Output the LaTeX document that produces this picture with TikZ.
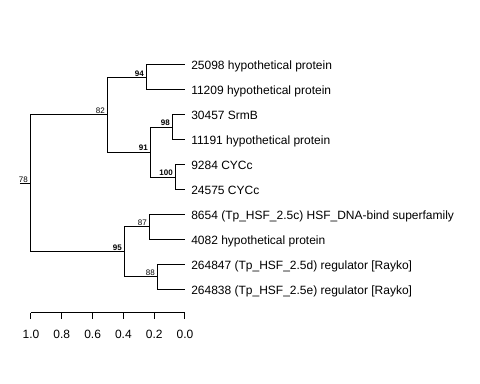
\documentclass[tikz,border=0pt]{standalone}
\usepackage{fontspec}
\setmainfont{Liberation Sans}
\tikzset{
leaf/.style={anchor=west, inner xsep=4.5pt, inner ysep=1pt,
    text height=7.4pt, text depth=0pt,
    font=\fontsize{9}{10}\selectfont},
boot/.style={anchor=south east, inner sep=0.75pt, xshift=-1.5pt,
    font=\fontsize{6}{7}\selectfont},
bootb/.style={boot, font=\fontsize{6}{7}\selectfont\bfseries},
branch/.style={line width=0.75pt}
}

\begin{document}
\begin{tikzpicture}[x=0.75pt, y=-0.75pt]
	\useasboundingbox (0,0) rectangle (480,384);
	\coordinate (stub) at (20,183.5);
	\coordinate (root) at (31,183.5);
	\coordinate (n82) at (108,114.75);
	\coordinate (n94) at (147,77.45);
	\coordinate (n91) at (151,152.05);
	\coordinate (n98) at (173,127.25);
	\coordinate (n100) at (176,177.05);
	\coordinate (n95) at (125,251.75);
	\coordinate (n87) at (150,226.85);
	\coordinate (n88) at (158,276.65);
	\node[leaf] (l1) at (185,65) {25098 hypothetical protein};
	\node[leaf] (l2) at (185,89.9) {11209 hypothetical protein};
	\node[leaf] (l3) at (185,114.8) {30457 SrmB};
	\node[leaf] (l4) at (185,139.7) {11191 hypothetical protein};
	\node[leaf] (l5) at (185,164.6) {9284 CYCc};
	\node[leaf] (l6) at (185,189.5) {24575 CYCc};
	\node[leaf] (l7) at (185,214.4) {8654 (Tp\_HSF\_2.5c) HSF\_DNA-bind superfamily};
	\node[leaf] (l8) at (185,239.3) {4082 hypothetical protein};
	\node[leaf] (l9) at (185,264.2) {264847 (Tp\_HSF\_2.5d) regulator [Rayko]};
	\node[leaf] (l10) at (185,289.1) {264838 (Tp\_HSF\_2.5e) regulator [Rayko]};
	\draw[branch] (stub) -- (root);
	\draw[branch] (root) |- (n82);
	\draw[branch] (root) |- (n95);
	\draw[branch] (n82) |- (n94);
	\draw[branch] (n82) |- (n91);
	\draw[branch] (n94) |- (l1);
	\draw[branch] (n94) |- (l2);
	\draw[branch] (n91) |- (n98);
	\draw[branch] (n91) |- (n100);
	\draw[branch] (n98) |- (l3);
	\draw[branch] (n98) |- (l4);
	\draw[branch] (n100) |- (l5);
	\draw[branch] (n100) |- (l6);
	\draw[branch] (n95) |- (n87);
	\draw[branch] (n95) |- (n88);
	\draw[branch] (n87) |- (l7);
	\draw[branch] (n87) |- (l8);
	\draw[branch] (n88) |- (l9);
	\draw[branch] (n88) |- (l10);
	\node[boot] (b78) at (root) {78};
	\node[boot] (b82) at (n82) {82};
	\node[bootb] (b94) at (n94) {94};
	\node[bootb] (b91) at (n91) {91};
	\node[bootb] (b98) at (n98) {98};
	\node[bootb] (b100) at (n100) {100};
	\node[bootb] (b95) at (n95) {95};
	\node[boot] (b87) at (n87) {87};
	\node[boot] (b88) at (n88) {88};
	% scale
	\draw[branch] (31,313) -- (185,313);
	\foreach \i/\t in {0/1.0,1/0.8,2/0.6,3/0.4,4/0.2,5/0.0}{
		\draw[branch] (31+30.8*\i,313) -- (31+30.8*\i,319);
		\node[font=\fontsize{9}{10}\selectfont] (ax\i) at (31+30.8*\i,334) {\t};
	}
\end{tikzpicture}
\end{document}
